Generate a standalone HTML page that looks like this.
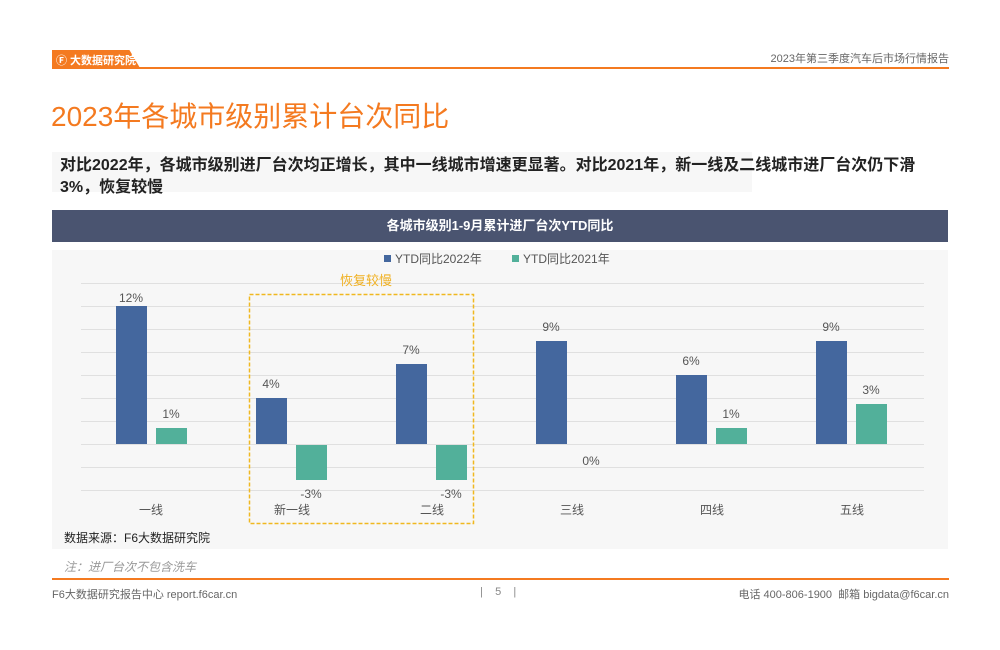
<!DOCTYPE html>
<html><head><meta charset="utf-8"><style>
body{margin:0;width:1000px;height:650px;background:#fff;position:relative;overflow:hidden;font-family:"Liberation Sans","Noto Sans CJK SC",sans-serif}
.a{position:absolute;white-space:nowrap}
</style></head><body>
<div class="a" style="left:52px;top:50px;width:88px;height:18px;background:#f47a20;clip-path:polygon(0 0,88% 0,100% 100%,0 100%)"></div>
<div class="a" style="left:56px;top:52px;font-size:11px;color:#fff;font-weight:bold">Ⓕ 大数据研究院</div>
<div class="a" style="left:52px;top:67px;width:897px;height:2px;background:#f47a20"></div>
<div class="a" style="right:51px;top:50px;font-size:11px;color:#666">2023年第三季度汽车后市场行情报告</div>
<div class="a" style="left:51px;top:95px;font-size:28px;color:#f47a20">2023年各城市级别累计台次同比</div>
<div class="a" style="left:52px;top:152px;width:700px;height:40px;background:#f7f7f7"></div>
<div class="a" style="left:60px;top:155px;font-size:16px;font-weight:bold;color:#222;line-height:22px">对比2022年，各城市级别进厂台次均正增长，其中一线城市增速更显著。对比2021年，新一线及二线城市进厂台次仍下滑<br>3%，恢复较慢</div>
<div class="a" style="left:52px;top:210px;width:896px;height:32px;background:#4a5470;color:#fff;font-size:13px;font-weight:bold;text-align:center;line-height:32px">各城市级别1-9月累计进厂台次YTD同比</div>
<div class="a" style="left:52px;top:250px;width:896px;height:299px;background:#f7f7f7"></div>
<svg class="a" style="left:0;top:0" width="1000" height="650" font-family="Liberation Sans,Noto Sans CJK SC,sans-serif">
<g stroke="#e0e0e0" stroke-width="1">
<line x1="81" x2="924" y1="283.5" y2="283.5"/><line x1="81" x2="924" y1="306.5" y2="306.5"/><line x1="81" x2="924" y1="329.5" y2="329.5"/><line x1="81" x2="924" y1="352.5" y2="352.5"/><line x1="81" x2="924" y1="375.5" y2="375.5"/><line x1="81" x2="924" y1="398.5" y2="398.5"/><line x1="81" x2="924" y1="421.5" y2="421.5"/><line x1="81" x2="924" y1="444.5" y2="444.5"/><line x1="81" x2="924" y1="467.5" y2="467.5"/><line x1="81" x2="924" y1="490.5" y2="490.5"/>
</g>
<rect x="384" y="255" width="7" height="7" fill="#44679e"/><text x="395" y="263" font-size="12" fill="#555">YTD同比2022年</text>
<rect x="512" y="255" width="7" height="7" fill="#52b09a"/><text x="523" y="263" font-size="12" fill="#555">YTD同比2021年</text>
<g fill="#44679e">
<rect x="116" y="306" width="31" height="138"/><rect x="256" y="398" width="31" height="46"/><rect x="396" y="364" width="31" height="80"/><rect x="536" y="341" width="31" height="103"/><rect x="676" y="375" width="31" height="69"/><rect x="816" y="341" width="31" height="103"/>
</g>
<g fill="#52b09a">
<rect x="156" y="428" width="31" height="16"/><rect x="296" y="445" width="31" height="35"/><rect x="436" y="445" width="31" height="35"/><rect x="716" y="428" width="31" height="16"/><rect x="856" y="404" width="31" height="40"/>
</g>
<g font-size="12" fill="#555" text-anchor="middle">
<text x="131" y="302">12%</text><text x="171" y="418">1%</text>
<text x="271" y="388">4%</text><text x="311" y="498">-3%</text>
<text x="411" y="354">7%</text><text x="451" y="498">-3%</text>
<text x="551" y="331">9%</text><text x="591" y="465">0%</text>
<text x="691" y="365">6%</text><text x="731" y="418">1%</text>
<text x="831" y="331">9%</text><text x="871" y="394">3%</text>
<text x="151" y="514">一线</text><text x="292" y="514">新一线</text><text x="432" y="514">二线</text><text x="572" y="514">三线</text><text x="712" y="514">四线</text><text x="852" y="514">五线</text>
</g>
<rect x="249.5" y="294.5" width="224" height="229" fill="none" stroke="#f0b820" stroke-width="1.5" stroke-dasharray="4,2"/>
<text x="366" y="285" font-size="13" fill="#f0b020" text-anchor="middle">恢复较慢</text>
</svg>
<div class="a" style="left:64px;top:529px;font-size:12px;color:#222">数据来源：F6大数据研究院</div>
<div class="a" style="left:64px;top:558px;font-size:12px;color:#999;font-style:italic">注：进厂台次不包含洗车</div>
<div class="a" style="left:52px;top:578px;width:897px;height:2px;background:#f47a20"></div>
<div class="a" style="left:52px;top:586px;font-size:11px;color:#666">F6大数据研究报告中心 report.f6car.cn</div>
<div class="a" style="left:480px;top:586px;font-size:11px;color:#888">|&nbsp;&nbsp;&nbsp;&nbsp;5&nbsp;&nbsp;&nbsp;&nbsp;|</div>
<div class="a" style="right:51px;top:586px;font-size:11px;color:#666">电话 400-806-1900&nbsp; 邮箱 bigdata@f6car.cn</div>
</body></html>
